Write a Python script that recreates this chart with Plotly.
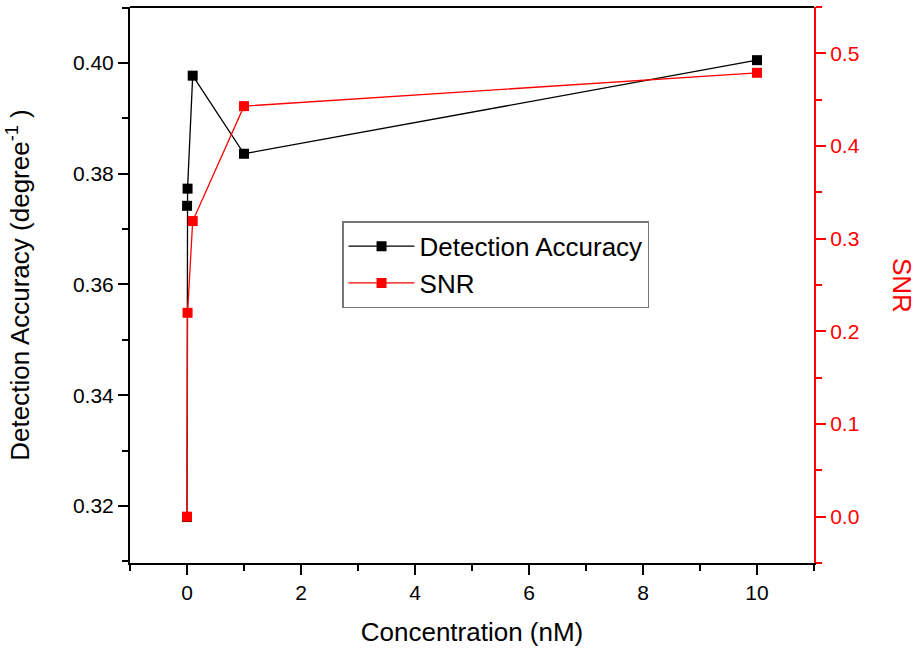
import plotly.graph_objects as go

conc_da = [0, 0.001, 0.01, 0.1, 1, 10]
detection_accuracy = [0.3180, 0.3742, 0.3773, 0.3977, 0.3836, 0.4005]
conc_snr = [0, 0.01, 0.1, 1, 10]
snr = [0.0, 0.220, 0.319, 0.443, 0.479]

FONT = "Liberation Sans, Arial, sans-serif"

fig = go.Figure()
fig.add_trace(go.Scatter(
    x=conc_da, y=detection_accuracy, name="Detection Accuracy",
    mode="lines+markers",
    line=dict(color="black", width=1.3),
    marker=dict(symbol="square", size=10, color="black"),
    yaxis="y"))
fig.add_trace(go.Scatter(
    x=conc_snr, y=snr, name="SNR",
    mode="lines+markers",
    line=dict(color="red", width=1.3),
    marker=dict(symbol="square", size=10, color="red"),
    yaxis="y2"))

fig.update_layout(
    width=918, height=649,
    margin=dict(l=130, r=104, t=7, b=84),
    plot_bgcolor="white", paper_bgcolor="white",
    font=dict(family=FONT, size=21, color="black"),
    xaxis=dict(
        range=[-1, 11], tickmode="linear", tick0=0, dtick=2,
        ticks="outside", ticklen=10, tickwidth=1.5, tickcolor="black",
        minor=dict(ticks="outside", ticklen=6, tickwidth=1.5, tickcolor="black", dtick=1, tick0=0),
        showline=True, linecolor="black", linewidth=2, mirror=False,
        showgrid=False, zeroline=False,
        title=dict(text="Concentration (nM)", font=dict(size=26), standoff=20),
        tickfont=dict(size=21),
    ),
    yaxis=dict(
        range=[0.3097, 0.4101], tickmode="linear", tick0=0.32, dtick=0.02,
        tickformat=".2f",
        ticks="outside", ticklen=10, tickwidth=1.5, tickcolor="black",
        minor=dict(ticks="outside", ticklen=6, tickwidth=1.5, tickcolor="black", dtick=0.01, tick0=0.31),
        showline=True, linecolor="black", linewidth=2,
        showgrid=False, zeroline=False,
        title=dict(text="Detection Accuracy (degree<sup>-1</sup> )", font=dict(size=26), standoff=36),
        tickfont=dict(size=21),
    ),
    yaxis2=dict(
        overlaying="y", side="right", anchor="x",
        range=[-0.05, 0.55], tickmode="linear", tick0=0, dtick=0.1,
        tickformat=".1f",
        ticks="outside", ticklen=10, tickwidth=1.5, tickcolor="red",
        minor=dict(ticks="outside", ticklen=6, tickwidth=1.5, tickcolor="red", dtick=0.05, tick0=0),
        showline=True, linecolor="red", linewidth=2,
        showgrid=False, zeroline=False,
        tickfont=dict(size=21, color="red"),
    ),
    legend=dict(
        x=0.31, y=0.6147, xanchor="left", yanchor="top",
        bgcolor="white", bordercolor="#777777", borderwidth=1.5,
        font=dict(size=26), tracegroupgap=0, itemwidth=66,
    ),
    showlegend=True,
    shapes=[dict(type="line", xref="paper", yref="paper", x0=0, x1=1, y0=1, y1=1,
                 line=dict(color="black", width=2))],
    annotations=[dict(text="SNR", xref="paper", yref="paper", x=1.0, xshift=88, y=0.5,
                      textangle=90, showarrow=False, font=dict(size=26, color="red"),
                      xanchor="center", yanchor="middle")],
)

fig.write_html("out.html")
